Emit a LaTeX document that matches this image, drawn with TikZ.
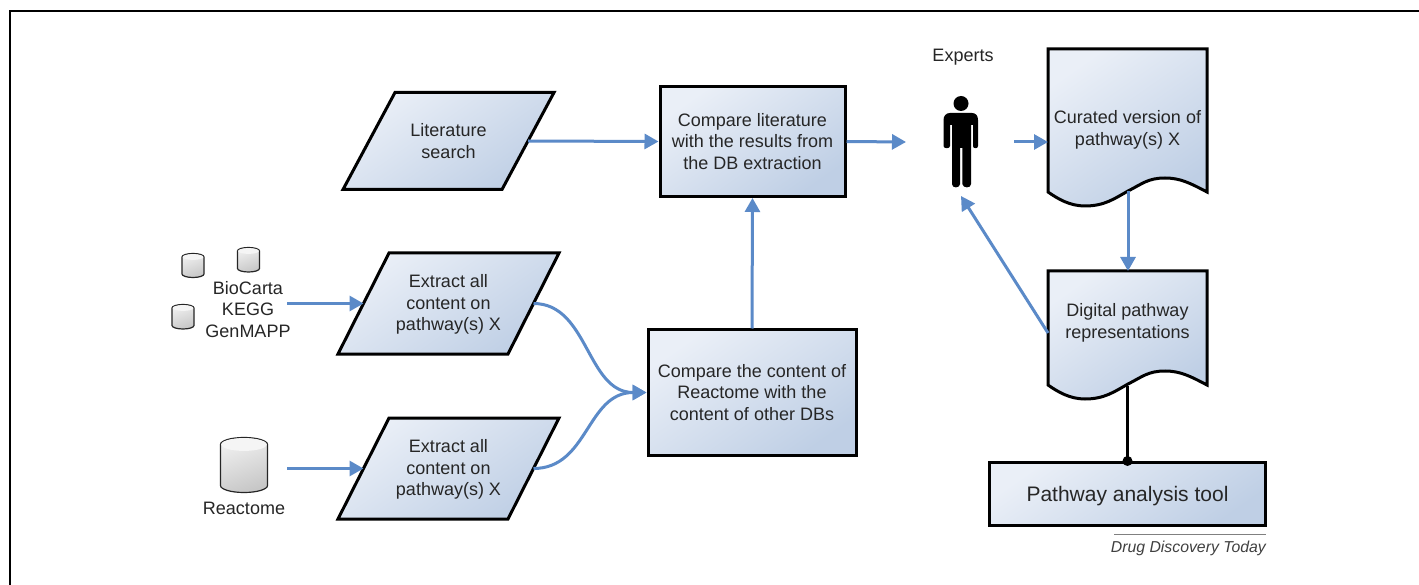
\documentclass[tikz,border=0pt]{standalone}
\usepackage{fontspec}
\setmainfont{Liberation Sans}
\usetikzlibrary{arrows.meta}
\definecolor{flowblue}{HTML}{5B8AC8}
\definecolor{shadelight}{HTML}{EAEFF7}
\definecolor{shadedark}{HTML}{BFCFE5}
\definecolor{txt}{HTML}{262626}
\tikzset{
  x=1pt,y=-1pt,
  fillshade/.style={draw=black,line width=3pt,top color=shadelight,bottom color=shadedark,shading angle=35},
  procbox/.style={fillshade,rectangle,text=txt,align=center,font=\fontsize{18}{21.5}\selectfont,inner sep=0pt},
  flow/.style={draw=flowblue,line width=3pt,-{Triangle[length=14pt,width=15pt]}},
  plainlabel/.style={text=txt,align=center,font=\fontsize{18}{21.5}\selectfont,inner sep=0pt},
  cylside/.style={draw=black!85,line width=1.2pt,top color=white!94!black,bottom color=white!78!black,shading angle=20},
  cylend/.style={fill=white!96!black},
}
% x-left, y-top, width, height, ellipse ry
\newcommand{\dbcyl}[5]{%
  \path[cylside] (#1,#2+#5) arc[start angle=180,end angle=360,x radius=#3/2,y radius=#5] -- (#1+#3,#2+#4-#5) arc[start angle=0,end angle=180,x radius=#3/2,y radius=#5] -- cycle;
  \path[cylend] (#1+#3/2,#2+#5) ellipse[x radius=#3/2-0.6,y radius=#5-0.6];
}
% name, cx, cy, width, height, slant offset, label y, text
\newcommand{\parashape}[8]{%
  \path[fillshade] (#2-#4/2,#3+#5/2) -- (#2-#4/2+#6,#3-#5/2) -- (#2+#4/2,#3-#5/2) -- (#2+#4/2-#6,#3+#5/2) -- cycle;
  \node[plainlabel] (#1) at (#2,#7) {#8};
  \coordinate (#1-e) at (#2+#4/2-#6/2,#3);
  \coordinate (#1-w) at (#2-#4/2+#6/2,#3);
}
% x-left, y-top, x-right, y-wave
\newcommand{\docpath}[4]{%
  \path[fillshade] (#1,#2) -- (#3,#2) -- (#3,#4)
  .. controls (#3-17,#4-9) and (#3-27,#4-14) .. (#3-42,#4-14)
  .. controls (#3-59,#4-14) and (#3-65,#4-8) .. (#1+80,#4-1)
  .. controls (#1+66,#4+7) and (#1+56,#4+14) .. (#1+37,#4+14)
  .. controls (#1+22,#4+14) and (#1+10,#4+7) .. (#1,#4) -- cycle;
}
\begin{document}
\begin{tikzpicture}
\useasboundingbox (0,0) rectangle (1419,585);
\fill[white] (0,0) rectangle (1419,585);
\draw[black,line width=2pt] (9.8,585) -- (9.8,11) -- (1419,11);

% process boxes
\parashape{lit}{448.5}{141}{211}{97}{52}{141}{Literature\\search}
\parashape{exA}{448.5}{303.5}{221}{101}{51}{304.5}{Extract all\\content on\\pathway(s) X}
\parashape{exB}{448.5}{468.5}{221}{101}{51}{469.5}{Extract all\\content on\\pathway(s) X}
\node[procbox,minimum width=185pt,minimum height=110pt] (cmpA) at (752.5,141.5) {Compare literature\\with the results from\\the DB extraction};
\node[procbox,minimum width=208pt,minimum height=125pt] (cmpB) at (752,392.5) {Compare the content of\\Reactome with the\\content of other DBs};
\node[procbox,minimum width=276pt,minimum height=63pt] (tool) at (1127.5,494) {};
\node[plainlabel,font=\fontsize{21}{25}\selectfont] (toollabel) at (1127.5,496) {Pathway analysis tool};

% documents
\docpath{1048}{49}{1207}{192}
\docpath{1048}{271}{1207}{385}
\node[plainlabel] (cur) at (1127.5,130) {Curated version of\\pathway(s) X};
\node[plainlabel] (dig) at (1127.5,323) {Digital pathway\\representations};
\coordinate (curB) at (1128,191);
\coordinate (digT) at (1128,271);
\coordinate (digL) at (1048,333);
\coordinate (curL) at (1048,142);
\coordinate (digB) at (1127.5,386);

% databases
\dbcyl{182}{253.5}{22}{24}{3.5}
\dbcyl{237.5}{247.5}{22}{24.5}{3.5}
\dbcyl{172}{304.5}{22}{24.5}{3.5}
\dbcyl{220.5}{437.5}{47}{55}{7}
\node[plainlabel] (src) at (248,309.5) {BioCarta\\KEGG\\GenMAPP};
\node[plainlabel] (rea) at (244,508.5) {Reactome};
\coordinate (srcE) at (287,303.5);
\coordinate (reaE) at (287,468.5);

% expert
\fill[black] (961,103.5) circle (7.5);
\fill[black] (950,113) -- (972,113)
  .. controls (976,113) and (978,116) .. (978,120) -- (978,146)
  .. controls (978,149) and (973,149) .. (973,146) -- (973,125) -- (971,125)
  -- (971,184) .. controls (971,188.5) and (963,188.5) .. (962.3,184) -- (962.3,148) -- (960.2,148) -- (960.2,184)
  .. controls (959.5,188.5) and (952,188.5) .. (952,184) -- (952,125) -- (950,125) -- (950,146)
  .. controls (950,149) and (943.5,149) .. (943.5,146) -- (943.5,120)
  .. controls (943.5,116) and (946,113) .. (950,113) -- cycle;
\node[plainlabel] (exp) at (963,57) {Experts};
\coordinate (expL) at (906,142);
\coordinate (expR) at (1014,142);
\coordinate (expB) at (961,196);

% connectors
\draw[flow] (lit-e) -- (cmpA.west);
\draw[flow] (srcE) -- (exA-w);
\draw[flow] (reaE) -- (exB-w);
\draw[flow] (exA-e) .. controls +(55,0) and +(-60,0) .. (cmpB.west);
\draw[flow] (exB-e) .. controls +(55,0) and +(-60,0) .. (cmpB.west);
\draw[flow] (cmpB.north) -- (cmpA.south);
\draw[flow] (cmpA.east) -- (expL);
\draw[flow] (expR) -- (curL);
\draw[flow] (curB) -- (digT);
\draw[flow] (digL) -- (expB);
\draw[black,line width=3pt] (digB) -- (tool.north);
\fill[black] (tool.north) circle (5);

% credit
\coordinate (capL) at (1114,534.5);
\coordinate (capR) at (1266,534.5);
\draw[black!50,line width=1.2pt] (capL) -- (capR);
\node[anchor=east,inner sep=0pt,text=black!75,font=\fontsize{15.8}{18}\selectfont\itshape] (credit) at (1266,548) {Drug Discovery Today};
\end{tikzpicture}
\end{document}
